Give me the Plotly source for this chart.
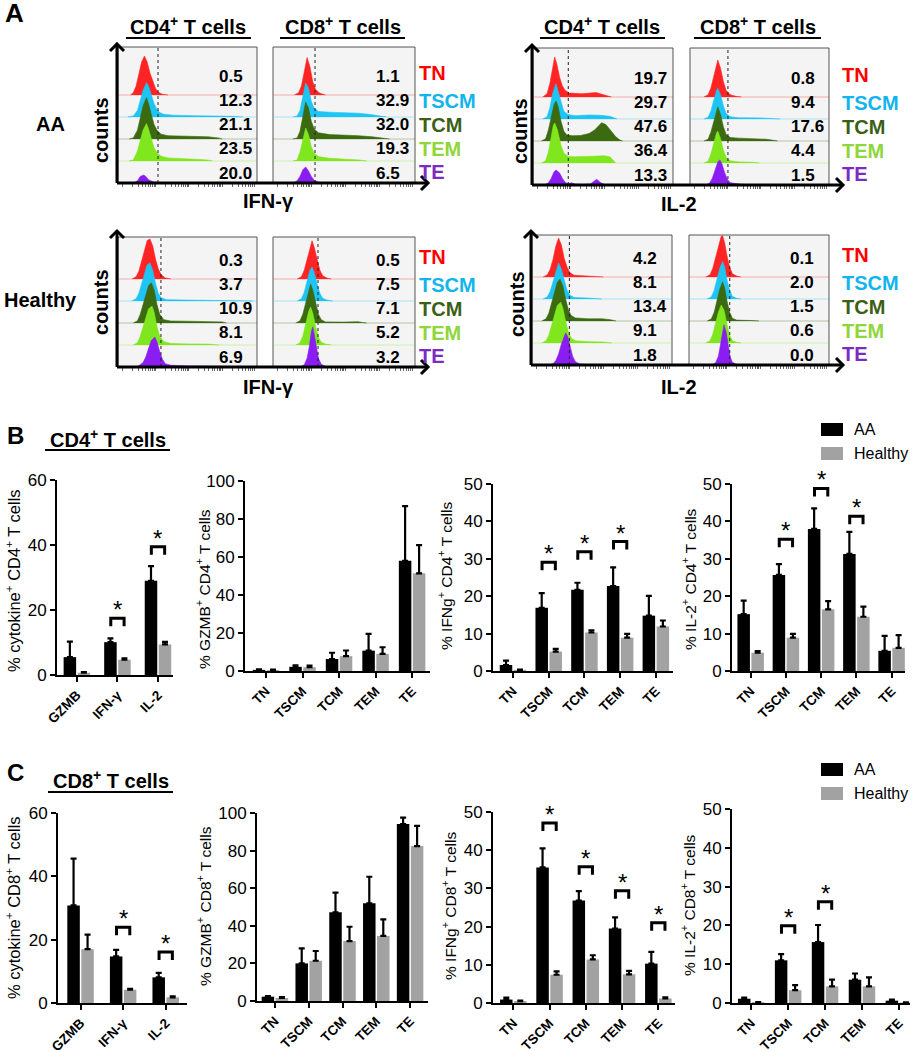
import math
import plotly.graph_objects as go

W, H = 920, 1050
FONT = "Arial, 'Liberation Sans', sans-serif"

# ---------------- Panel A data ----------------
POPS = ["TN", "TSCM", "TCM", "TEM", "TE"]
POP_FILL = ["#ff2424", "#1ec4f4", "#3b6a10", "#80e61e", "#8a1ef2"]
POP_TEXT = ["#ff0000", "#12b4ee", "#3c5f16", "#8fd63a", "#7a2cc0"]

AA_IFNG_CD4 = [0.5, 12.3, 21.1, 23.5, 20.0]
AA_IFNG_CD8 = [1.1, 32.9, 32.0, 19.3, 6.5]
AA_IL2_CD4 = [19.7, 29.7, 47.6, 36.4, 13.3]
AA_IL2_CD8 = [0.8, 9.4, 17.6, 4.4, 1.5]
H_IFNG_CD4 = [0.3, 3.7, 10.9, 8.1, 6.9]
H_IFNG_CD8 = [0.5, 7.5, 7.1, 5.2, 3.2]
H_IL2_CD4 = [4.2, 8.1, 13.4, 9.1, 1.8]
H_IL2_CD8 = [0.1, 2.0, 1.5, 0.6, 0.0]

# gate position (fluorescence channel, 0-100 box scale)
GATES = {"AA_IFNG": (28.8, 29.6), "AA_IL2": (25.2, 27.3),
         "H_IFNG": (30.9, 31.7), "H_IL2": (26.7, 29.1)}

# histogram outlines: (channel, height in lane units)
HIST_AA_IFNG_CD4 = {
    "TN": [(9, 0), (11, 0.1), (13, 0.4), (15, 0.9), (17, 1.5), (19, 1.77), (21, 1.5), (23, 1.0), (25, 0.6), (27, 0.3), (29, 0.12), (32, 0.03), (36, 0)],
    "TSCM": [(7, 0), (11, 0.05), (14, 0.3), (16, 0.7), (18, 1.2), (20.5, 1.56), (22, 1.4), (24, 1.0), (26, 0.6), (28, 0.35), (30, 0.2), (33, 0.12), (40, 0.08), (55, 0.06), (70, 0.05), (82, 0.03), (90, 0)],
    "TCM": [(8, 0), (11, 0.05), (14, 0.4), (16, 1.0), (18, 1.5), (20.5, 1.88), (22, 1.6), (24, 1.1), (26, 0.65), (28, 0.4), (31, 0.22), (36, 0.15), (45, 0.13), (55, 0.12), (65, 0.1), (72, 0.05), (75, 0)],
    "TEM": [(8, 0), (11, 0.05), (14, 0.45), (16, 1.0), (18, 1.4), (20.5, 1.7), (22, 1.45), (24, 1.0), (26, 0.6), (28, 0.38), (31, 0.22), (36, 0.14), (45, 0.1), (55, 0.08), (64, 0.05), (68, 0)],
    "TE": [(11, 0), (14, 0.1), (16, 0.3), (18.5, 0.36), (20, 0.3), (22, 0.15), (25, 0.06), (28, 0.02), (40, 0)],
}
HIST_AA_IFNG_CD8 = {
    "TN": [(15, 0), (18, 0.1), (20, 0.4), (22, 1.0), (24, 1.7), (26, 1.3), (28, 0.6), (30, 0.25), (33, 0.08), (37, 0)],
    "TSCM": [(14, 0), (17, 0.05), (19, 0.3), (21, 0.9), (23, 1.55), (25, 1.3), (27, 0.7), (29, 0.4), (32, 0.25), (40, 0.22), (50, 0.2), (60, 0.17), (68, 0.12), (75, 0.04), (80, 0)],
    "TCM": [(14, 0), (17, 0.05), (19, 0.35), (21, 1.0), (23, 1.68), (25, 1.4), (27, 0.8), (29, 0.45), (32, 0.28), (40, 0.2), (50, 0.18), (60, 0.15), (70, 0.1), (78, 0.04), (82, 0)],
    "TEM": [(14, 0), (17, 0.05), (19, 0.4), (21, 1.0), (23, 1.5), (25, 1.2), (27, 0.65), (29, 0.35), (32, 0.2), (40, 0.12), (50, 0.09), (60, 0.05), (66, 0)],
    "TE": [(14, 0), (17, 0.1), (19, 0.3), (21, 0.6), (23, 0.73), (25, 0.55), (27, 0.3), (29, 0.12), (32, 0.04), (36, 0)],
}
HIST_AA_IL2_CD4 = {
    "TN": [(7, 0), (10, 0.15), (12, 0.6), (14, 1.4), (15.5, 1.82), (17, 1.5), (19, 0.9), (21, 0.5), (23, 0.3), (26, 0.18), (35, 0.15), (45, 0.2), (50, 0.12), (53, 0.04), (56, 0)],
    "TSCM": [(7, 0), (10, 0.1), (12, 0.5), (14, 1.15), (16.4, 1.6), (18, 1.25), (20, 0.7), (22, 0.35), (25, 0.2), (30, 0.15), (40, 0.18), (48, 0.17), (55, 0.12), (58, 0.05), (60, 0)],
    "TCM": [(6, 0), (9, 0.1), (11, 0.5), (13, 1.1), (15, 1.65), (16.5, 1.82), (18, 1.55), (20, 0.9), (22, 0.45), (24, 0.28), (28, 0.24), (34, 0.25), (40, 0.34), (44, 0.5), (47, 0.72), (49, 0.83), (52, 0.75), (56, 0.45), (59, 0.2), (62, 0.05), (64, 0)],
    "TEM": [(6, 0), (9, 0.1), (11, 0.5), (13, 1.1), (14.5, 1.7), (15.5, 1.82), (17.5, 1.5), (20, 0.8), (22, 0.45), (25, 0.3), (30, 0.28), (38, 0.3), (45, 0.32), (51, 0.33), (55, 0.28), (57, 0.12), (59, 0)],
    "TE": [(8, 0), (11, 0.1), (13, 0.3), (15, 0.6), (16.5, 0.68), (19, 0.55), (21, 0.3), (23, 0.12), (25, 0.06), (27.5, 0.1), (30, 0.04), (36, 0.02), (41, 0.05), (43, 0.15), (45.5, 0.26), (48, 0.12), (51, 0.02), (55, 0)],
}
HIST_AA_IL2_CD8 = {
    "TN": [(10, 0), (13, 0.1), (15, 0.4), (17, 0.9), (19, 1.5), (20, 1.68), (22, 1.3), (24, 0.7), (26, 0.3), (29, 0.1), (33, 0.03), (37, 0)],
    "TSCM": [(10, 0), (13, 0.08), (15, 0.35), (17, 0.85), (19, 1.3), (20, 1.4), (22, 1.1), (24, 0.6), (26, 0.25), (29, 0.1), (35, 0.06), (50, 0.05), (60, 0.03), (65, 0)],
    "TCM": [(10, 0), (13, 0.08), (15, 0.4), (17, 0.9), (19, 1.4), (20, 1.55), (22, 1.2), (24, 0.65), (26, 0.3), (29, 0.16), (35, 0.13), (45, 0.12), (55, 0.08), (60, 0.03), (63, 0)],
    "TEM": [(10, 0), (13, 0.08), (15, 0.4), (17, 0.9), (19, 1.35), (20, 1.45), (22, 1.1), (24, 0.6), (26, 0.25), (29, 0.1), (35, 0.05), (45, 0.03), (50, 0)],
    "TE": [(11, 0), (14, 0.08), (16, 0.3), (18, 0.7), (20, 1.05), (21.5, 1.14), (23, 0.95), (25, 0.55), (27, 0.25), (29, 0.1), (32, 0.06), (36, 0.04), (40, 0.02), (44, 0)],
}
HIST_H_IFNG_CD4 = {
    "TN": [(10, 0), (13, 0.1), (15, 0.35), (17, 0.8), (19, 1.35), (21, 1.75), (23, 1.82), (25, 1.5), (27, 0.9), (29, 0.45), (31, 0.2), (34, 0.05), (38, 0)],
    "TSCM": [(10, 0), (13, 0.1), (15, 0.35), (17, 0.8), (19, 1.3), (21, 1.65), (23, 1.73), (25, 1.4), (27, 0.8), (29, 0.35), (31, 0.15), (35, 0.06), (50, 0.04), (70, 0.03), (90, 0.02), (97, 0)],
    "TCM": [(11, 0), (14, 0.1), (16, 0.4), (18, 0.85), (20, 1.35), (22, 1.7), (24, 1.83), (26, 1.5), (28, 0.85), (30, 0.4), (33, 0.15), (38, 0.09), (50, 0.08), (65, 0.07), (75, 0.05), (78, 0)],
    "TEM": [(11, 0), (14, 0.1), (16, 0.4), (18, 0.85), (20, 1.3), (22, 1.65), (24.5, 1.77), (26, 1.5), (28, 0.85), (30, 0.4), (33, 0.15), (38, 0.07), (50, 0.05), (65, 0.04), (73, 0)],
    "TE": [(12, 0), (15, 0.06), (18, 0.2), (20, 0.45), (22, 0.85), (24, 1.2), (26.5, 1.36), (28, 1.15), (30, 0.7), (32, 0.35), (34, 0.15), (38, 0.08), (50, 0.05), (70, 0.04), (90, 0.03), (100, 0.02)],
}
HIST_H_IFNG_CD8 = {
    "TN": [(17, 0), (20, 0.1), (22, 0.4), (24, 0.9), (26, 1.5), (27.5, 1.74), (29, 1.45), (31, 0.9), (33, 0.4), (35, 0.15), (38, 0.04), (41, 0)],
    "TSCM": [(17, 0), (20, 0.1), (22, 0.4), (24, 0.9), (26, 1.4), (27.5, 1.55), (29, 1.3), (31, 0.8), (33, 0.35), (35, 0.12), (38, 0.04), (42, 0)],
    "TCM": [(16, 0), (19, 0.1), (21, 0.4), (23, 0.9), (25, 1.5), (26.5, 1.77), (28, 1.5), (30, 0.9), (32, 0.4), (34, 0.15), (37, 0.05), (50, 0.04), (60, 0.06), (63, 0.02), (66, 0)],
    "TEM": [(16, 0), (19, 0.1), (21, 0.4), (23, 0.95), (25, 1.5), (26.5, 1.73), (28, 1.45), (30, 0.85), (32, 0.35), (34, 0.12), (37, 0.04), (41, 0)],
    "TE": [(19, 0), (22, 0.1), (24, 0.4), (25.5, 0.9), (27, 1.6), (28, 1.83), (29, 1.5), (30.5, 0.9), (32, 0.4), (34, 0.12), (37, 0.03), (40, 0)],
}
HIST_H_IL2_CD4 = {
    "TN": [(8, 0), (11, 0.1), (13, 0.35), (15, 0.8), (17, 1.4), (19, 1.77), (21, 1.45), (23, 0.85), (25, 0.45), (27, 0.2), (30, 0.08), (40, 0.05), (48, 0.04), (51, 0)],
    "TSCM": [(8, 0), (11, 0.1), (13, 0.35), (15, 0.8), (17, 1.3), (19, 1.64), (21, 1.35), (23, 0.8), (25, 0.4), (27, 0.18), (30, 0.07), (40, 0.04), (50, 0)],
    "TCM": [(7, 0), (10, 0.1), (12, 0.35), (14, 0.8), (16, 1.3), (18, 1.75), (20, 1.9), (22, 1.6), (24, 1.0), (26, 0.5), (28, 0.25), (31, 0.14), (40, 0.1), (50, 0.1), (56, 0.06), (60, 0)],
    "TEM": [(7, 0), (10, 0.1), (12, 0.35), (14, 0.8), (16, 1.3), (18, 1.7), (20.5, 1.86), (22, 1.6), (24, 1.0), (26, 0.5), (28, 0.22), (31, 0.1), (40, 0.06), (50, 0.05), (57, 0)],
    "TE": [(12, 0), (15, 0.06), (17, 0.2), (19, 0.5), (21, 0.95), (23, 1.35), (24, 1.45), (25.5, 1.3), (27, 0.85), (29, 0.4), (31, 0.15), (34, 0.05), (38, 0.02), (45, 0)],
}
HIST_H_IL2_CD8 = {
    "TN": [(12, 0), (15, 0.1), (17, 0.4), (19, 0.9), (21, 1.45), (23, 1.85), (24, 1.88), (25.5, 1.55), (27, 1.0), (29, 0.45), (31, 0.15), (34, 0.04), (37, 0)],
    "TSCM": [(13, 0), (16, 0.1), (18, 0.4), (20, 0.9), (22, 1.4), (24, 1.7), (25.5, 1.45), (27, 0.9), (29, 0.4), (31, 0.12), (34, 0.03), (37, 0)],
    "TCM": [(13, 0), (16, 0.1), (18, 0.4), (20, 0.9), (22, 1.45), (24, 1.78), (25.5, 1.5), (27, 0.95), (29, 0.4), (31, 0.12), (34, 0.04), (45, 0.02), (50, 0)],
    "TEM": [(12, 0), (15, 0.1), (17, 0.4), (19, 0.9), (21, 1.4), (23, 1.73), (25, 1.5), (27, 0.9), (29, 0.35), (31, 0.1), (34, 0.03), (37, 0)],
    "TE": [(16, 0), (19, 0.1), (21, 0.4), (22.5, 0.9), (24, 1.5), (25, 1.82), (26.5, 1.5), (28, 0.85), (29.5, 0.35), (31, 0.12), (34, 0.03), (37, 0)],
}

# ---------------- Panels B / C data ----------------
CAT_CYTO = ["GZMB", "IFN-γ", "IL-2"]
CAT_SUBSET = ["TN", "TSCM", "TCM", "TEM", "TE"]

B1_AA = [5.5, 10.1, 29.0]
B1_AA_SEM = [4.8, 1.2, 4.5]
B1_H = [0.7, 4.7, 9.4]
B1_H_SEM = [0.2, 0.4, 0.8]
B1_SIG = [(1, 17.5), (2, 39.5)]

B2_AA = [0.6, 2.2, 6.3, 10.7, 58.0]
B2_AA_SEM = [0.3, 0.8, 3.3, 8.8, 28.8]
B2_H = [0.5, 2.0, 7.8, 9.0, 51.4]
B2_H_SEM = [0.3, 0.8, 3.0, 3.5, 14.9]
B2_SIG = []

B3_AA = [1.6, 16.9, 21.7, 22.7, 14.8]
B3_AA_SEM = [1.2, 3.9, 1.9, 5.0, 5.3]
B3_H = [0.3, 5.2, 10.3, 8.9, 11.9]
B3_H_SEM = [0.1, 0.7, 0.6, 1.0, 1.6]
B3_SIG = [(1, 29.1), (2, 31.9), (3, 34.6)]

B4_AA = [15.2, 25.7, 38.0, 31.3, 5.4]
B4_AA_SEM = [3.6, 2.9, 5.5, 5.9, 4.0]
B4_H = [4.9, 8.9, 16.5, 14.5, 6.2]
B4_H_SEM = [0.4, 1.0, 2.2, 2.7, 3.4]
B4_SIG = [(1, 35.2), (2, 48.8), (3, 41.4)]

C1_AA = [30.8, 14.7, 8.1]
C1_AA_SEM = [14.8, 2.1, 1.4]
C1_H = [17.0, 4.2, 1.8]
C1_H_SEM = [4.6, 0.3, 0.3]
C1_SIG = [(1, 23.9), (2, 16.1)]

C2_AA = [2.3, 20.0, 47.2, 52.0, 94.1]
C2_AA_SEM = [0.3, 8.0, 10.4, 14.1, 3.4]
C2_H = [1.6, 21.4, 31.9, 34.6, 82.4]
C2_H_SEM = [0.5, 5.2, 7.6, 8.8, 10.7]
C2_SIG = []

C3_AA = [0.9, 35.5, 26.8, 19.5, 10.3]
C3_AA_SEM = [0.5, 5.0, 2.5, 2.9, 3.1]
C3_H = [0.5, 7.4, 11.4, 7.5, 1.2]
C3_H_SEM = [0.1, 0.9, 1.1, 0.9, 0.3]
C3_SIG = [(1, 47.1), (2, 35.7), (3, 29.4), (4, 21.0)]

C4_AA = [1.1, 11.0, 15.7, 6.0, 0.6]
C4_AA_SEM = [0.3, 1.6, 4.4, 1.6, 0.3]
C4_H = [0.2, 3.3, 4.3, 4.3, 0.1]
C4_H_SEM = [0.05, 1.3, 1.7, 2.3, 0.05]
C4_SIG = [(1, 19.9), (2, 26.1)]

AA_COLOR = "#000000"
H_COLOR = "#a2a2a2"

# ---------------- helpers ----------------
def fx(p):
    return p / W


def fy(p):
    return 1 - p / H


fig = go.Figure()
layout = dict(width=W, height=H, autosize=False,
              margin=dict(l=0, r=0, t=0, b=0, pad=0, autoexpand=False),
              paper_bgcolor="white", plot_bgcolor="rgba(0,0,0,0)",
              showlegend=False, barmode="overlay",
              font=dict(family=FONT, color="black"))
shapes = []
annotations = []
counter = [0]


def new_axes(x0, x1, top, bot, xa, ya):
    counter[0] += 1
    i = counter[0]
    s = "" if i == 1 else str(i)
    layout["xaxis" + s] = dict(xa, domain=[fx(x0), fx(x1)], anchor="y" + s, automargin=False)
    layout["yaxis" + s] = dict(ya, domain=[fy(bot), fy(top)], anchor="x" + s, automargin=False)
    return "x" + s, "y" + s


def text(x, y, t, size, color="black", bold=False, xanchor="center", angle=0, xref="paper", yref="paper"):
    if bold:
        t = "<b>" + t + "</b>"
    annotations.append(dict(x=x if xref != "paper" else fx(x),
                            y=y if yref != "paper" else fy(y),
                            xref=xref, yref=yref, text=t, showarrow=False,
                            xanchor=xanchor, yanchor="middle", textangle=angle,
                            font=dict(size=size, color=color, family=FONT)))


def pline(x0, y0, x1, y1, w=3, color="black"):
    shapes.append(dict(type="line", xref="paper", yref="paper",
                       x0=fx(x0), y0=fy(y0), x1=fx(x1), y1=fy(y1),
                       line=dict(color=color, width=w)))


def ppath(pts, w=3):
    d = "M " + " L ".join(f"{fx(a):.5f},{fy(b):.5f}" for a, b in pts)
    shapes.append(dict(type="path", xref="paper", yref="paper", path=d,
                       line=dict(color="black", width=w)))


LANE_PX = 22
NUM_X = 71
NUM_Y = [4.85, 3.75, 2.65, 1.55, 0.45]
LAB_Y = [5.0, 3.75, 2.65, 1.55, 0.52]
HIST_TICKS = [3 + 24 * (d + math.log10(k)) for d in range(4) for k in range(1, 10)
              if 3 + 24 * (d + math.log10(k)) <= 99]


def hist_box(x0, x1, top, bot, curves, pct, gate):
    ytop = (bot - top) / LANE_PX
    xa = dict(range=[0, 100], showgrid=False, zeroline=False, showline=False,
              ticks="outside", ticklen=3, tickwidth=1, tickcolor="#666",
              tickvals=HIST_TICKS, showticklabels=False, fixedrange=True)
    ya = dict(range=[0, ytop], visible=False, fixedrange=True)
    xr, yr = new_axes(x0, x1, top, bot, xa, ya)
    shapes.append(dict(type="rect", xref=xr + " domain", yref=yr + " domain",
                       x0=0, x1=1, y0=0, y1=1, fillcolor="#f4f4f4",
                       line=dict(color="#555", width=1), layer="below"))
    for j, pop in enumerate(POPS):
        base = 4 - j
        pts = curves[pop]
        xs = [p[0] for p in pts]
        ys = [base + p[1] for p in pts]
        fig.add_trace(go.Scatter(x=[0, 100], y=[base, base], mode="lines",
                                 line=dict(color=POP_FILL[j], width=1.2), opacity=0.35,
                                 xaxis=xr, yaxis=yr, hoverinfo="skip"))
        fig.add_trace(go.Scatter(x=[xs[0]] + xs + [xs[-1]], y=[base] + ys + [base],
                                 mode="lines", fill="toself", fillcolor=POP_FILL[j],
                                 line=dict(color=POP_FILL[j], width=0.6),
                                 xaxis=xr, yaxis=yr, hoverinfo="skip"))
        text(NUM_X, NUM_Y[j], f"{pct[j]:.1f}", 17, bold=True, xanchor="left", xref=xr, yref=yr)
    shapes.append(dict(type="line", xref=xr, yref=yr + " domain", x0=gate, x1=gate,
                       y0=0, y1=1, line=dict(color="#222", width=1, dash="dot")))
    return xr, yr


def hist_block(top, bot, boxes, vtip, htip, lab_x, xlab, xlab_pos, counts_pos, datasets, gates):
    yr = None
    for (bx0, bx1), (curves, pct), g in zip(boxes, datasets, gates):
        _, yr = hist_box(bx0, bx1, top, bot, curves, pct, g)
    ax = boxes[0][0] - 1
    pline(ax, bot, ax, vtip + 1)
    pline(ax, bot, htip - 1, bot)
    ppath([(ax - 7, vtip + 7), (ax, vtip), (ax + 7, vtip + 7)])
    ppath([(htip - 7, bot - 7), (htip, bot), (htip - 7, bot + 7)])
    for j, pop in enumerate(POPS):
        annotations.append(dict(x=fx(lab_x), y=LAB_Y[j], xref="paper", yref=yr,
                                text="<b>" + pop + "</b>", showarrow=False,
                                xanchor="left", yanchor="middle",
                                font=dict(size=20, color=POP_TEXT[j], family=FONT)))
    text(xlab_pos[0], xlab_pos[1], xlab, 20, bold=True)
    text(counts_pos[0], counts_pos[1], "counts", 20, bold=True, angle=-90)


# ---------------- Panel A ----------------
text(14, 13, "A", 26, bold=True)
text(50, 124, "AA", 20, bold=True)
text(40, 300, "Healthy", 20, bold=True)

for cx, x0, x1 in [(188, 126, 251), (343, 280, 405), (602, 540, 665), (758, 694, 821)]:
    label = "CD4" if cx in (188, 602) else "CD8"
    text(cx, 25, label + "<sup>+</sup> T cells", 20, bold=True)
    pline(x0, 38, x1, 38, w=2)

hist_block(47, 183, [(118, 257), (273, 415)], 44, 428, 417, "IFN-γ", (268, 201), (101, 130),
           [(HIST_AA_IFNG_CD4, AA_IFNG_CD4), (HIST_AA_IFNG_CD8, AA_IFNG_CD8)], GATES["AA_IFNG"])
hist_block(48, 185, [(533, 673), (690, 829)], 45, 843, 840, "IL-2", (679, 204), (520, 131),
           [(HIST_AA_IL2_CD4, AA_IL2_CD4), (HIST_AA_IL2_CD8, AA_IL2_CD8)], GATES["AA_IL2"])
hist_block(237, 367, [(118, 257), (273, 415)], 231, 428, 417, "IFN-γ", (268, 387), (101, 302),
           [(HIST_H_IFNG_CD4, H_IFNG_CD4), (HIST_H_IFNG_CD8, H_IFNG_CD8)], GATES["H_IFNG"])
hist_block(235, 365, [(532, 672), (689, 829)], 231, 843, 840, "IL-2", (679, 387), (517, 304),
           [(HIST_H_IL2_CD4, H_IL2_CD4), (HIST_H_IL2_CD8, H_IL2_CD8)], GATES["H_IL2"])

# ---------------- Panels B / C ----------------
BAR_PX = 12.5
GAP_PX = 1.5


def bar_chart(px_box, xrange, ymax, dtick, cats, aa, aa_sem, hh, hh_sem, sig, ytitle, tpos, tsize):
    x0, x1, top, bot = px_box
    upp = (xrange[1] - xrange[0]) / (x1 - x0)
    ypp = ymax / (bot - top)
    bw = BAR_PX * upp
    gap = GAP_PX * upp
    n = len(cats)
    axis_common = dict(showline=True, linecolor="black", linewidth=2, ticks="outside",
                       ticklen=5, tickwidth=2, tickcolor="black", showgrid=False,
                       zeroline=False, fixedrange=True)
    xa = dict(axis_common, range=list(xrange), tickvals=list(range(n)),
              ticktext=["<b>" + c + "</b>" for c in cats], tickangle=-45,
              tickfont=dict(size=13.5, family=FONT))
    ya = dict(axis_common, range=[0, ymax], tick0=0, dtick=dtick,
              tickfont=dict(size=17, family=FONT))
    xr, yr = new_axes(x0, x1, top, bot, xa, ya)
    fig.add_trace(go.Bar(x=list(range(n)), y=aa, width=bw, offset=-(bw + gap / 2),
                         marker=dict(color=AA_COLOR, line=dict(width=0)),
                         error_y=dict(type="data", array=aa_sem, arrayminus=[0] * n,
                                      symmetric=False, color="black", thickness=2.2, width=3),
                         xaxis=xr, yaxis=yr, hoverinfo="skip"))
    fig.add_trace(go.Bar(x=list(range(n)), y=hh, width=bw, offset=gap / 2,
                         marker=dict(color=H_COLOR, line=dict(width=0)),
                         error_y=dict(type="data", array=hh_sem, arrayminus=[0] * n,
                                      symmetric=False, color="black", thickness=2.2, width=3),
                         xaxis=xr, yaxis=yr, hoverinfo="skip"))
    leg = 8 * ypp
    half = (bw + gap) / 2 * 0.95
    for ci, ytop in sig:
        fig.add_trace(go.Scatter(x=[ci - half, ci - half, ci + half, ci + half],
                                 y=[ytop - leg, ytop, ytop, ytop - leg], mode="lines",
                                 line=dict(color="black", width=3), cliponaxis=False,
                                 xaxis=xr, yaxis=yr, hoverinfo="skip"))
        annotations.append(dict(x=ci, y=ytop, xref=xr, yref=yr, text="*", showarrow=False,
                                xanchor="center", yanchor="bottom", yshift=-7,
                                font=dict(size=24, family=FONT, color="black")))
    text(tpos[0], tpos[1], ytitle, tsize, angle=-90)


text(15, 436, "B", 24, bold=True)
text(108, 438, "CD4<sup>+</sup> T cells", 20, bold=True)
pline(45, 450, 170, 450, w=2)

bar_chart((57, 173, 480, 675), (-0.49, 2.37), 60, 20, CAT_CYTO, B1_AA, B1_AA_SEM, B1_H, B1_H_SEM,
          B1_SIG, "% cytokine<sup>+</sup> CD4<sup>+</sup> T cells", (13, 581), 16.5)
bar_chart((245, 430, 481, 671), (-0.575, 4.49), 100, 20, CAT_SUBSET, B2_AA, B2_AA_SEM, B2_H, B2_H_SEM,
          B2_SIG, "% GZMB<sup>+</sup> CD4<sup>+</sup> T cells", (203, 589), 15.5)
bar_chart((493, 673, 484, 671), (-0.56, 4.48), 50, 10, CAT_SUBSET, B3_AA, B3_AA_SEM, B3_H, B3_H_SEM,
          B3_SIG, "% IFNg<sup>+</sup> CD4<sup>+</sup> T cells", (445, 576), 15.5)
bar_chart((732, 905, 484, 671), (-0.53, 4.38), 50, 10, CAT_SUBSET, B4_AA, B4_AA_SEM, B4_H, B4_H_SEM,
          B4_SIG, "% IL-2<sup>+</sup> CD4<sup>+</sup> T cells", (689, 579), 15.5)

text(15, 772, "C", 24, bold=True)
text(111, 779, "CD8<sup>+</sup> T cells", 20, bold=True)
pline(48, 792, 173, 792, w=2)

bar_chart((58, 187, 813, 1003), (-0.53, 2.5), 60, 20, CAT_CYTO, C1_AA, C1_AA_SEM, C1_H, C1_H_SEM,
          C1_SIG, "% cytokine<sup>+</sup> CD8<sup>+</sup> T cells", (13, 908), 16.5)
bar_chart((257, 428, 813, 1001), (-0.53, 4.53), 100, 20, CAT_SUBSET, C2_AA, C2_AA_SEM, C2_H, C2_H_SEM,
          C2_SIG, "% GZMB<sup>+</sup> CD8<sup>+</sup> T cells", (204, 906), 15.5)
bar_chart((493, 675, 812, 1003), (-0.56, 4.46), 50, 10, CAT_SUBSET, C3_AA, C3_AA_SEM, C3_H, C3_H_SEM,
          C3_SIG, "% IFNg<sup>+</sup> CD8<sup>+</sup> T cells", (449, 906), 15.5)
bar_chart((732, 910, 809, 1003), (-0.52, 4.3), 50, 10, CAT_SUBSET, C4_AA, C4_AA_SEM, C4_H, C4_H_SEM,
          C4_SIG, "% IL-2<sup>+</sup> CD8<sup>+</sup> T cells", (688, 905), 15.5)

# legends
for ly in (423, 763):
    shapes.append(dict(type="rect", xref="paper", yref="paper", x0=fx(821), x1=fx(843),
                       y0=fy(ly + 13), y1=fy(ly), fillcolor=AA_COLOR, line=dict(width=0)))
    shapes.append(dict(type="rect", xref="paper", yref="paper", x0=fx(821), x1=fx(843),
                       y0=fy(ly + 37), y1=fy(ly + 24), fillcolor=H_COLOR, line=dict(width=0)))
    text(852, ly + 6.5, "AA", 16, xanchor="left")
    text(852, ly + 30.5, "Healthy", 16, xanchor="left")

layout["shapes"] = shapes
layout["annotations"] = annotations
fig.update_layout(**layout)
fig.write_html("out.html",
               config={"displayModeBar": False, "staticPlot": True},
               post_script="document.body.style.margin='0';document.body.style.padding='0';"
                           "document.body.style.overflow='hidden';")
